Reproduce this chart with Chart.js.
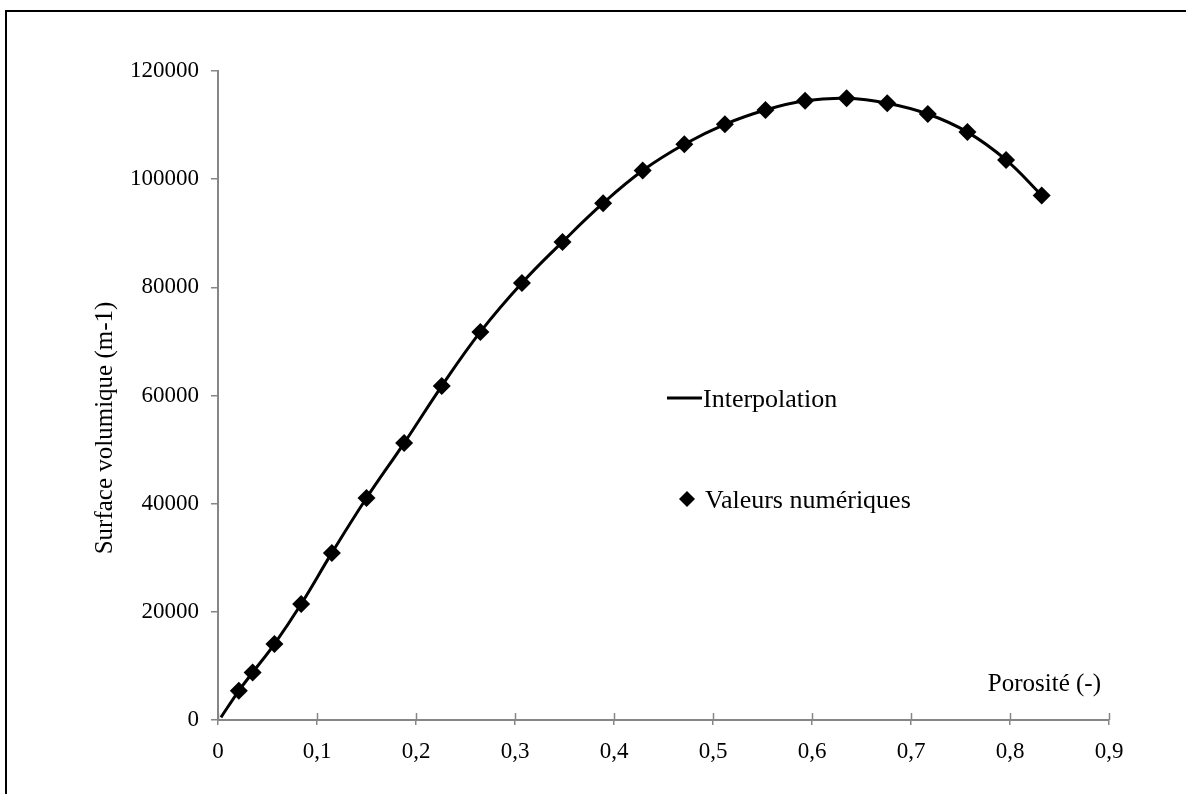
<!DOCTYPE html>
<html lang="fr">
<head>
<meta charset="utf-8">
<title>Surface volumique en fonction de la porosité</title>
<script src="https://cdn.jsdelivr.net/npm/chart.js@4.4.1/dist/chart.umd.min.js"></script>
<style>
  html, body { margin: 0; padding: 0; background: #fff; overflow: hidden; }
  #wrap { position: relative; width: 1186px; height: 794px; }
  #chart { position: absolute; left: 0; top: 0; }
  #frame {
    position: absolute; left: 5px; top: 10px; width: 1300px; height: 900px;
    border-top: 2px solid #000; border-left: 2px solid #000; pointer-events: none;
  }
</style>
</head>
<body>
<div id="wrap">
  <canvas id="chart" width="1186" height="794"></canvas>
  <div id="frame"></div>
</div>
<script>
// ─── Data ────────────────────────────────────────────────────────────────────

const porosity = [0.021, 0.035, 0.057, 0.084, 0.115, 0.150, 0.188, 0.226, 0.265, 0.307,
                  0.348, 0.389, 0.429, 0.471, 0.512, 0.553, 0.593, 0.635, 0.676, 0.717,
                  0.757, 0.796, 0.832];
const surface  = [5400, 8800, 14050, 21450, 30900, 41050, 51200, 61750, 71750, 80800,
                  88400, 95550, 101600, 106450, 110150, 112800, 114500, 114950, 114050, 112050,
                  108700, 103550, 97000];

// interpolation curve: starts near the origin, then follows the numerical values
const curvePorosity = [0.003].concat(porosity);
const curveSurface  = [500].concat(surface);

const xTicks = [0, 0.1, 0.2, 0.3, 0.4, 0.5, 0.6, 0.7, 0.8, 0.9];
const yTicks = [0, 20000, 40000, 60000, 80000, 100000, 120000];

const curveLabel  = "Interpolation";
const pointsLabel = "Valeurs numériques";
const xTitle      = "Porosité (-)";
const yTitle      = "Surface volumique (m-1)";

// ─── Look ────────────────────────────────────────────────────────────────────

const FONT        = '"Liberation Serif", "Times New Roman", serif';
const TICK_SIZE   = 23;
const TITLE_SIZE  = 25;
const LEGEND_SIZE = 26;
const AXIS_GREY   = "#868686";

function toXY(xs, ys) {
  return xs.map((x, i) => ({ x, y: ys[i] }));
}

// axis titles placed the Excel way: x title inside the plot above the axis,
// y title rotated left of the tick labels
const axisTitles = {
  id: "axisTitles",
  afterDraw(chart) {
    const { ctx, scales } = chart;
    ctx.save();
    ctx.font = `${TITLE_SIZE}px ${FONT}`;
    ctx.fillStyle = "#000";

    ctx.textAlign = "right";
    ctx.textBaseline = "alphabetic";
    ctx.fillText(xTitle, scales.x.getPixelForValue(0.9) - 8, scales.y.bottom - 29);

    ctx.translate(105, 428);
    ctx.rotate(-Math.PI / 2);
    ctx.textAlign = "center";
    ctx.textBaseline = "middle";
    ctx.fillText(yTitle, 0, 0);
    ctx.restore();
  }
};

// x ticks cross the axis: add the part inside the plot
const crossTicks = {
  id: "crossTicks",
  afterDraw(chart) {
    const { ctx, scales } = chart;
    const base = scales.y.bottom;
    ctx.save();
    ctx.strokeStyle = AXIS_GREY;
    ctx.lineWidth = 1.5;
    ctx.beginPath();
    for (const v of xTicks) {
      const px = Math.round(scales.x.getPixelForValue(v)) + 0.5;
      ctx.moveTo(px, base);
      ctx.lineTo(px, base - 7);
    }
    ctx.stroke();
    ctx.restore();
  }
};

// legend floating in the middle of the plot
const insideLegend = {
  id: "insideLegend",
  afterDraw(chart) {
    const ctx = chart.ctx;
    const [curve, points] = chart.data.datasets;
    ctx.save();
    ctx.font = `${LEGEND_SIZE}px ${FONT}`;
    ctx.fillStyle = "#000";
    ctx.strokeStyle = "#000";
    ctx.textAlign = "left";
    ctx.textBaseline = "alphabetic";

    ctx.lineWidth = 3;
    ctx.beginPath();
    ctx.moveTo(667, 398);
    ctx.lineTo(702, 398);
    ctx.stroke();
    ctx.fillText(curve.label, 703, 407);

    Chart.helpers.drawPoint(ctx, { pointStyle: "rectRot", radius: 8, borderWidth: 0, rotation: 0 }, 687, 499);
    ctx.fillText(points.label, 705, 508);
    ctx.restore();
  }
};

// ─── Chart ───────────────────────────────────────────────────────────────────

new Chart(document.getElementById("chart"), {
  type: "scatter",
  data: {
    datasets: [
      {
        label: curveLabel,
        data: toXY(curvePorosity, curveSurface),
        showLine: true,
        borderColor: "#000",
        borderWidth: 3,
        pointRadius: 0,
        tension: 0.4,
        order: 2
      },
      {
        label: pointsLabel,
        data: toXY(porosity, surface),
        pointStyle: "rectRot",
        pointRadius: 9,
        pointBackgroundColor: "#000",
        pointBorderWidth: 0,
        order: 1
      }
    ]
  },
  options: {
    responsive: false,
    animation: false,
    layout: { padding: { left: 0, top: 71, right: 77, bottom: 0 } },
    plugins: {
      legend: { display: false },
      tooltip: { enabled: false }
    },
    scales: {
      x: {
        type: "linear",
        min: 0,
        max: 0.9,
        afterBuildTicks: s => { s.ticks = xTicks.map(v => ({ value: v })); },
        afterFit: s => { s.height = 74; s.paddingLeft = 0; s.paddingRight = 0; },
        ticks: {
          color: "#000",
          font: { family: FONT, size: TICK_SIZE },
          padding: 13,
          maxRotation: 0,
          autoSkip: false,
          callback: v => String(v).replace(".", ",")
        },
        grid: { drawOnChartArea: false, color: AXIS_GREY, lineWidth: 1.5, tickLength: 5 },
        border: { color: AXIS_GREY, width: 2 }
      },
      y: {
        min: 0,
        max: 120000,
        afterBuildTicks: s => { s.ticks = yTicks.map(v => ({ value: v })); },
        afterFit: s => { s.width = 218; s.paddingTop = 0; s.paddingBottom = 0; },
        ticks: {
          color: "#000",
          font: { family: FONT, size: TICK_SIZE },
          padding: 12,
          autoSkip: false,
          callback: v => String(v)
        },
        grid: { drawOnChartArea: false, color: AXIS_GREY, lineWidth: 1.5, tickLength: 7 },
        border: { color: AXIS_GREY, width: 2 }
      }
    }
  },
  plugins: [axisTitles, crossTicks, insideLegend]
});
</script>
</body>
</html>
